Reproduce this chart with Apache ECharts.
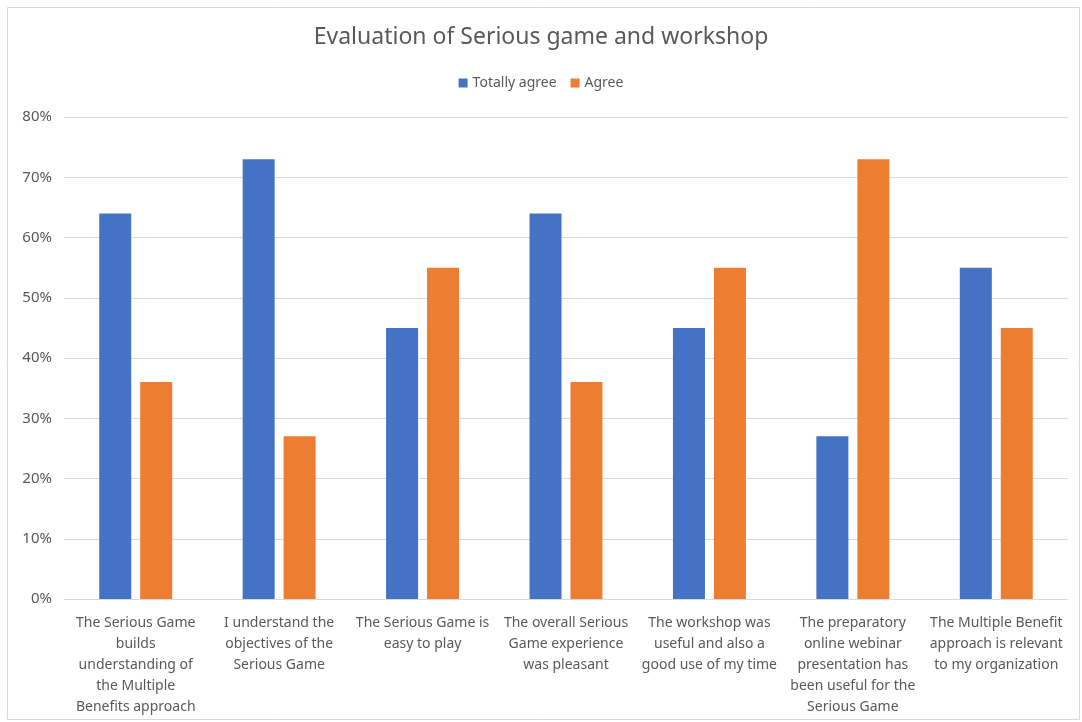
<!DOCTYPE html>
<html>
<head>
<meta charset="utf-8">
<script src="https://cdn.jsdelivr.net/npm/echarts@6/dist/echarts.min.js"></script>
<style>
html,body{margin:0;padding:0;background:#fff;}
#chart{width:1082px;height:722px;}
</style>
</head>
<body>
<div id="chart"></div>
<script>
const categories = [
  'The Serious Game\nbuilds\nunderstanding of\nthe Multiple\nBenefits approach',
  'I understand the\nobjectives of the\nSerious Game',
  'The Serious Game is\neasy to play',
  'The overall Serious\nGame experience\nwas pleasant',
  'The workshop was\nuseful and also a\ngood use of my time',
  'The preparatory\nonline webinar\npresentation has\nbeen useful for the\nSerious Game',
  'The Multiple Benefit\napproach is relevant\nto my organization'
];
const totallyAgree = [64, 73, 45, 64, 45, 27, 55];
const agree = [36, 27, 55, 36, 55, 73, 45];
const seriesNames = ['Totally agree', 'Agree'];

const font = 'Liberation Sans Narrow, Noto Sans, sans-serif';
const chart = echarts.init(document.getElementById('chart'), null, {renderer: 'canvas'});
chart.setOption({
  animation: false,
  backgroundColor: '#fff',
  graphic: [{
    type: 'rect', left: 5, top: 5,
    shape: {width: 1072, height: 712},
    style: {fill: 'none', stroke: '#d9d9d9', lineWidth: 1}
  }],
  title: {
    text: 'Evaluation of Serious game and workshop',
    left: 'center', top: 21,
    textStyle: {fontFamily: font, fontSize: 23, fontWeight: 'normal', color: '#595959'}
  },
  legend: {
    top: 71, left: 'center', icon: 'rect',
    itemWidth: 9, itemHeight: 9, itemGap: 14,
    textStyle: {fontFamily: font, fontSize: 14, color: '#595959'},
    data: seriesNames
  },
  grid: {left: 64, right: 14, top: 117, bottom: 123, containLabel: false},
  xAxis: {
    type: 'category',
    data: categories,
    axisLine: {lineStyle: {color: '#d9d9d9', width: 1}},
    axisTick: {show: false},
    axisLabel: {
      interval: 0, margin: 14, lineHeight: 21,
      fontFamily: font, fontSize: 14, color: '#595959'
    }
  },
  yAxis: {
    type: 'value', min: 0, max: 80, interval: 10,
    axisLine: {show: false}, axisTick: {show: false},
    splitLine: {lineStyle: {color: '#d9d9d9', width: 1}},
    axisLabel: {formatter: '{value}%', margin: 12, fontFamily: font, fontSize: 15, color: '#595959'}
  },
  series: [
    {name: seriesNames[0], type: 'bar', data: totallyAgree, barWidth: 32, barGap: '28%',
     itemStyle: {color: '#4472c4'}},
    {name: seriesNames[1], type: 'bar', data: agree, barWidth: 32,
     itemStyle: {color: '#ed7d31'}}
  ]
});
</script>
</body>
</html>
